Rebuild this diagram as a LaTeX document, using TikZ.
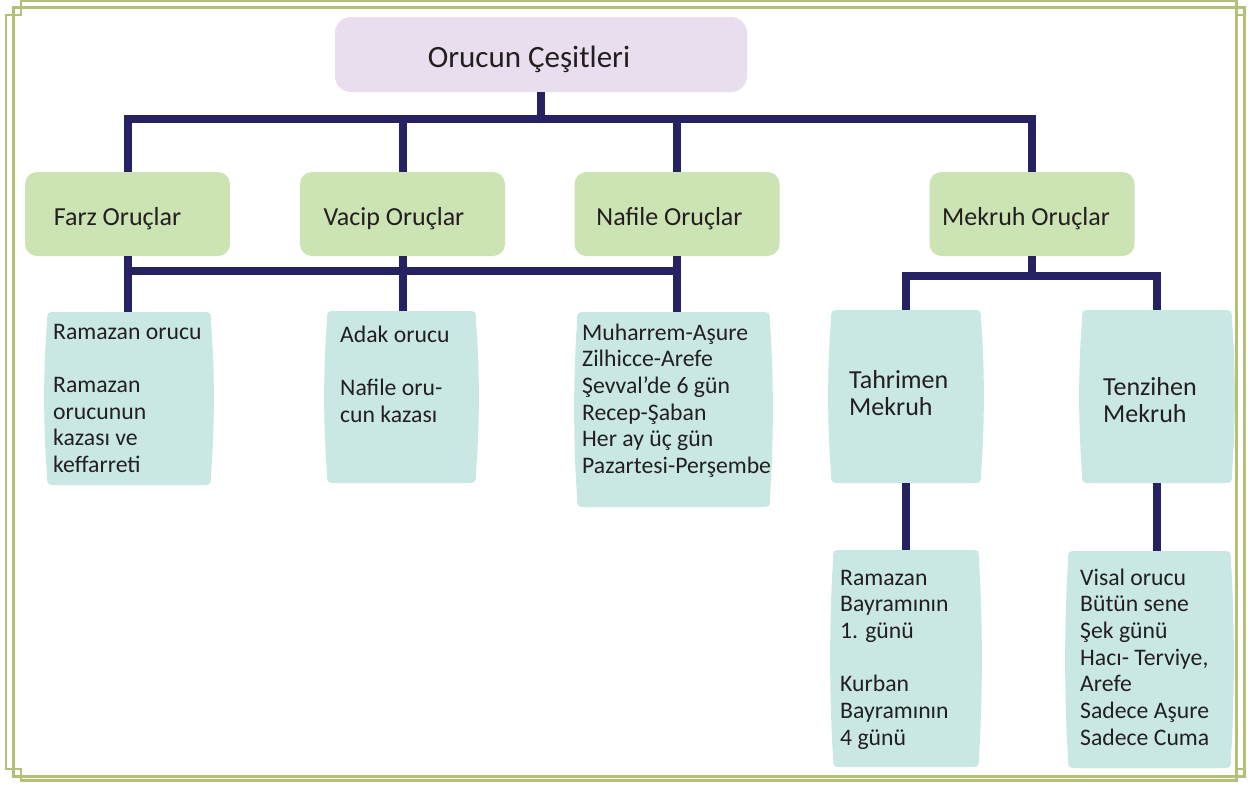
\documentclass[tikz,border=0pt]{standalone}
\usepackage{fontspec}
\setmainfont{Carlito}
\definecolor{framec}{HTML}{B3C078}
\definecolor{navy}{HTML}{262262}
\definecolor{lavfill}{HTML}{E8DEEE}
\definecolor{greenfill}{HTML}{CCE3B4}
\definecolor{bluefill}{HTML}{C9E8E4}
\definecolor{txt}{HTML}{231F20}
\newcommand\toplines[1]{\begin{tabular}[t]{@{}l@{}}#1\end{tabular}}
\newcommand\barrelbox[5]{%
  \pgfmathsetmacro\bxa{#2+11}\pgfmathsetmacro\bxb{#4-11}%
  \pgfmathsetmacro\bxl{#2+2}\pgfmathsetmacro\bxr{#4-2}%
  \pgfmathsetmacro\bxc{#4+1.8}\pgfmathsetmacro\bxd{#2-1.8}%
  \pgfmathsetmacro\bya{#3+11}\pgfmathsetmacro\byb{#5-11}%
  \pgfmathsetmacro\byc{#3+(#5-#3)/3}\pgfmathsetmacro\byd{#5-(#5-#3)/3}%
  \fill[bluefill] (\bxa,#3) -- (\bxb,#3) .. controls (\bxr,#3) .. (\bxr,\bya)
     .. controls (\bxc,\byc) and (\bxc,\byd) .. (\bxr,\byb)
     .. controls (\bxr,#5) .. (\bxb,#5) -- (\bxa,#5) .. controls (\bxl,#5) .. (\bxl,\byb)
     .. controls (\bxd,\byd) and (\bxd,\byc) .. (\bxl,\bya) .. controls (\bxl,#3) .. cycle;
  \pgfmathsetmacro\bw{#4-#2}\pgfmathsetmacro\bh{#5-#3}%
  \pgfmathsetmacro\bcx{(#2+#4)/2}\pgfmathsetmacro\bcy{(#3+#5)/2}%
  \node[inner sep=0pt, minimum width=\bw pt, minimum height=\bh pt] (#1) at (\bcx,\bcy) {};
}
\begin{document}
\begin{tikzpicture}[x=1pt,y=-1pt,
  conn/.style={draw=navy, line width=8pt},
  greenbox/.style={fill=greenfill, rounded corners=12pt, inner sep=0pt, minimum width=205pt, minimum height=84pt},
  headbox/.style={fill=lavfill, rounded corners=16pt, inner sep=0pt, minimum width=412pt, minimum height=75pt},
  headtxt/.style={text=txt, inner sep=0pt, font=\fontsize{31}{36}\selectfont},
  lbl/.style={text=txt, inner sep=0pt, font=\fontsize{26}{27}\selectfont},
  sublbl/.style={text=txt, inner sep=0pt, anchor=base west, font=\fontsize{26}{27}\selectfont},
  listtxt/.style={text=txt, inner sep=0pt, anchor=base west, font=\fontsize{23.7}{26.7}\selectfont},
  framethin/.style={draw=framec, line width=2.2pt},
  framethick/.style={draw=framec, line width=3pt}]
\useasboundingbox (0,0) rectangle (1254,785);
\fill[white] (0,0) rectangle (1254,785);
% frame
\draw[framethick] (13.5,7.5) rectangle (1244.5,776);
\draw[framethin] (21,1.2) -- (1236.5,1.2) -- (1236.5,780.5) -- (21,780.5) -- (21,769) -- (6,769) -- (6,15) -- (21,15) -- cycle;
\draw[framethin] (1236.5,15) -- (1244.5,15) (1236.5,769) -- (1244.5,769);
% header
\node[headbox] (root) at (541,54.5) {};
\node[headtxt, anchor=base] (roott) at (529,67) {Orucun Çeşitleri};
% level 1
\node[greenbox] (farz) at (127.5,214) {};
\node[greenbox] (vacip) at (402.5,214) {};
\node[greenbox] (nafile) at (677,214) {};
\node[greenbox] (mekruh) at (1032,214) {};
\node[lbl, anchor=base] (farzt) at (117.5,225) {Farz Oruçlar};
\node[lbl, anchor=base] (vacipt) at (394,225) {Vacip Oruçlar};
\node[lbl, anchor=base] (nafilet) at (669.5,225) {Nafile Oruçlar};
\node[lbl, anchor=base] (mekruht) at (1026,225) {Mekruh Oruçlar};
% level 2 boxes
\barrelbox{ramazan}{45}{312}{213}{485}
\barrelbox{adak}{325}{311}{478}{483}
\barrelbox{nafilelist}{575}{312}{772}{507}
\barrelbox{tahrimen}{829}{310}{983}{483}
\barrelbox{tenzihen}{1080}{310}{1234}{483}
\barrelbox{bayram}{831}{550}{981}{767}
\barrelbox{visal}{1066}{551}{1233}{768}
% texts
\node[listtxt] (ramazant) at (53,339) {\toplines{Ramazan orucu\\[26.7pt]Ramazan\\orucunun\\kazası ve\\keffarreti}};
\node[listtxt] (adakt) at (340,342) {\toplines{Adak orucu\\[26.7pt]Nafile oru-\\cun kazası}};
\node[listtxt] (nafilelistt) at (582,340) {\toplines{Muharrem-Aşure\\Zilhicce-Arefe\\Şevval’de 6 gün\\Recep-Şaban\\Her ay üç gün\\Pazartesi-Perşembe}};
\node[sublbl] (tahrimelt) at (849,388) {\toplines{Tahrimen\\Mekruh}};
\node[sublbl] (tenzihent) at (1103,395) {\toplines{Tenzihen\\Mekruh}};
\node[listtxt] (bayramt) at (840,585) {\toplines{Ramazan\\Bayramının\\1. günü\\[26.7pt]Kurban\\Bayramının\\4 günü}};
\node[listtxt] (visalt) at (1080,585) {\toplines{Visal orucu\\Bütün sene\\Şek günü\\Hacı- Terviye,\\Arefe\\Sadece Aşure\\Sadece Cuma}};
% connectors
\coordinate (bar1) at (540,119);
\coordinate (bar2) at (400,271);
\coordinate (bar3) at (1032,276);
\draw[conn] (root.south) -- (root.south |- bar1);
\draw[conn] (farz.north) |- (mekruh.north |- bar1) -- (mekruh.north);
\draw[conn] (vacip.north) -- (vacip.north |- bar1);
\draw[conn] (nafile.north) -- (nafile.north |- bar1);
\draw[conn] (farz.south) -- (farz.south |- ramazan.north);
\draw[conn] (farz.south |- bar2) -- (nafile.south |- bar2);
\draw[conn] (vacip.south) -- (vacip.south |- adak.north);
\draw[conn] (nafile.south) -- (nafile.south |- nafilelist.north);
\draw[conn] (mekruh.south) -- (mekruh.south |- bar3);
\draw[conn] (tahrimen.north) |- (tenzihen.north |- bar3) -- (tenzihen.north);
\draw[conn] (tahrimen.south) -- (bayram.north);
\draw[conn] (tenzihen.south) -- (tenzihen.south |- visal.north);
\end{tikzpicture}
\end{document}
